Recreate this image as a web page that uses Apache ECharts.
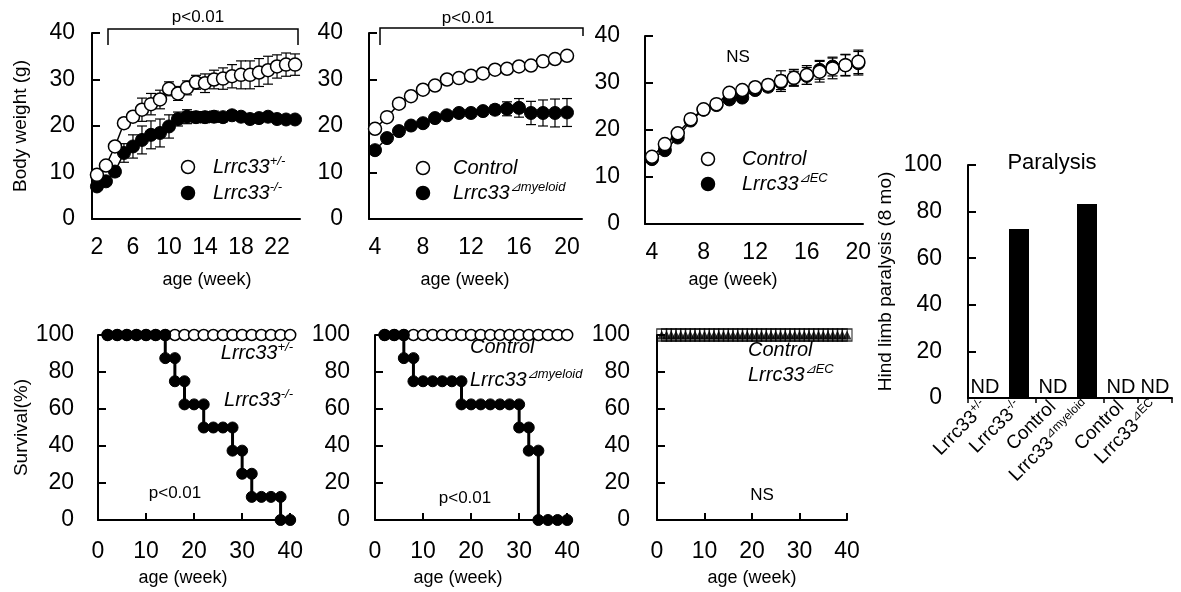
<!DOCTYPE html>
<html>
<head>
<meta charset="utf-8">
<script src="https://cdn.jsdelivr.net/npm/echarts@6/dist/echarts.min.js"></script>
<style>
  html, body { margin: 0; background: #fff; }
  #chart { width: 1181px; height: 592px; }
</style>
</head>
<body>
<div id="chart"></div>
<script>
// ---- body weight, Lrrc33 +/- vs -/- ----
const hetWeeks = [2,3,4,5,6,7,8,9,10,11,12,13,14,15,16,17,18,19,20,21,22,23,24];
const hetWeight = [9.5,11.5,15.6,20.6,22,23.5,24.7,25.7,28,27,28.2,29.4,29.2,30,30.2,30.7,31,31,31.5,32,32.8,33.2,33.2];
const hetErr = [0.5,0.8,1,1,1,2.5,2.3,2,1.5,1.5,1.5,1.5,2,2,2.3,2.5,3,3,3,3,2.5,2.5,2.3];
const koWeight = [7,8.1,10.2,14.2,15.6,17,18.1,18.5,19.9,21.5,22,21.9,21.9,22,21.9,22.3,22,21.5,21.7,22,21.5,21.4,21.4];
const koErr = [0.5,0.5,1,2,2.5,3,3,3,2.5,1.5,1.5,1.2,1.2,1.2,1,1,0.8,0.8,0.8,0.8,0.8,0.8,0.8];

// ---- body weight, Control vs myeloid ----
const myeWeeks = [4,5,6,7,8,9,10,11,12,13,14,15,16,17,18,19,20];
const myeCtrlWeight = [19.4,21.9,24.8,26.4,27.8,28.7,30,30.3,30.8,31.3,32.1,32.3,32.8,33,33.9,34.4,35.1];
const myeCtrlErr = [0,0,0,0,0,0,0,0,0,0,0,0,0,0,0,0,0];
const myeKoWeight = [14.8,17.4,18.9,20.1,20.6,21.7,22.3,22.8,22.8,23.2,23.5,23.7,23.9,22.8,22.8,22.8,22.9];
const myeKoErr = [0.5,0.5,0.5,0.5,0.5,0.5,0.5,0.7,0.7,0.8,1,1.5,2,2.5,2.8,3,3];

// ---- body weight, Control vs EC ----
const ecWeeks = [4,5,6,7,8,9,10,11,12,13,14,15,16,17,18,19,20];
const ecCtrlWeight = [14.3,17,19.3,22.3,24.4,25.5,27.9,28.5,29.1,29.6,30.4,31.1,31.7,32.4,33.1,33.8,34.5];
const ecCtrlErr = [0.5,0.5,0.5,0.5,0.5,0.5,0.8,0.8,0.8,1,2.2,1.8,2,2.2,2.2,2.3,2.5];
const ecKoWeight = [13.8,15.7,18.4,22,24.3,25.3,26.5,26.9,28.5,29.2,30.1,31,31.5,32.8,33.5,33.8,34.2];
const ecKoErr = [0.5,0.5,0.5,0.5,0.5,0.5,0.8,0.8,0.8,1,1.5,1.5,1.8,2,2,2.2,2.5];

// ---- survival ----
const survHetWeeks = [2,4,6,8,10,12,14,16,18,20,22,24,26,28,30,32,34,36,38,40];
const survHetPct = [100,100,100,100,100,100,100,100,100,100,100,100,100,100,100,100,100,100,100,100];
const survKoWeeks = [2,4,6,8,10,12,14,14,16,16,18,18,20,22,22,24,26,28,28,30,30,32,32,34,36,38,38,40];
const survKoPct = [100,100,100,100,100,100,100,87.5,87.5,75,75,62.5,62.5,62.5,50,50,50,50,37.5,37.5,25,25,12.5,12.5,12.5,12.5,0,0];

const survMyeCtrlWeeks = [2,4,6,8,10,12,14,16,18,20,22,24,26,28,30,32,34,36,38,40];
const survMyeCtrlPct = [100,100,100,100,100,100,100,100,100,100,100,100,100,100,100,100,100,100,100,100];
const survMyeKoWeeks = [2,4,6,6,8,8,10,12,14,16,18,18,20,22,24,26,28,30,30,32,32,34,34,36,38,40];
const survMyeKoPct = [100,100,100,87.5,87.5,75,75,75,75,75,75,62.5,62.5,62.5,62.5,62.5,62.5,62.5,50,50,37.5,37.5,0,0,0,0];

const survEcWeeks = [1,2,3,4,5,6,7,8,9,10,11,12,13,14,15,16,17,18,19,20,21,22,23,24,25,26,27,28,29,30,31,32,33,34,35,36,37,38,39,40];
const survEcCtrlPct = [100,100,100,100,100,100,100,100,100,100,100,100,100,100,100,100,100,100,100,100,100,100,100,100,100,100,100,100,100,100,100,100,100,100,100,100,100,100,100,100];
const survEcKoPct = [100,100,100,100,100,100,100,100,100,100,100,100,100,100,100,100,100,100,100,100,100,100,100,100,100,100,100,100,100,100,100,100,100,100,100,100,100,100,100,100];

// ---- paralysis ----
const paraGroups = ['Lrrc33+/-', 'Lrrc33-/-', 'Control', 'Lrrc33⊿myeloid', 'Control', 'Lrrc33⊿EC'];
const paraPct = [0, 72.5, 0, 83.3, 0, 0];

// tick labels
const weightTicksA = [2, 6, 10, 14, 18, 22];
const weightTicksB = [4, 8, 12, 16, 20];
const survTicks = [0, 10, 20, 30, 40];
const survTickMarks = [10, 20, 30, 40];

const FONT = '"Liberation Sans", Arial, Helvetica, sans-serif';

function zip(xs, ys) {
  return xs.map((x, i) => [x, ys[i]]);
}
function zip3(xs, ys, es) {
  return xs.map((x, i) => [x, ys[i], es[i]]);
}

// error bars drawn through the axis scale
function errRender(params, api) {
  const x = api.value(0), y = api.value(1), e = api.value(2);
  if (!e) return null;
  const hi = api.coord([x, y + e]);
  const lo = api.coord([x, y - e]);
  const w = 5;
  const st = { stroke: '#000', lineWidth: 1.2 };
  return {
    type: 'group',
    children: [
      { type: 'line', shape: { x1: hi[0], y1: hi[1], x2: lo[0], y2: lo[1] }, style: st },
      { type: 'line', shape: { x1: hi[0] - w, y1: hi[1], x2: hi[0] + w, y2: hi[1] }, style: st },
      { type: 'line', shape: { x1: lo[0] - w, y1: lo[1], x2: lo[0] + w, y2: lo[1] }, style: st }
    ]
  };
}

function errSeries(idx, xs, ys, es) {
  return {
    type: 'custom', xAxisIndex: idx, yAxisIndex: idx, z: 1,
    renderItem: errRender, data: zip3(xs, ys, es), silent: true
  };
}

function openLine(idx, xs, ys, size, lw) {
  return {
    type: 'line', xAxisIndex: idx, yAxisIndex: idx, z: 4,
    data: zip(xs, ys), symbol: 'circle', symbolSize: size, showAllSymbol: true,
    itemStyle: { color: '#fff', borderColor: '#000', borderWidth: 1.5 },
    lineStyle: { color: '#000', width: lw }
  };
}
function filledLine(idx, xs, ys, size, lw) {
  return {
    type: 'line', xAxisIndex: idx, yAxisIndex: idx, z: 3,
    data: zip(xs, ys), symbol: 'circle', symbolSize: size, showAllSymbol: true,
    itemStyle: { color: '#000', borderColor: '#000', borderWidth: 1 },
    lineStyle: { color: '#000', width: lw }
  };
}

const axisLine = { show: true, onZero: false, lineStyle: { color: '#000', width: 2 } };
const tickLabel = { color: '#000', fontSize: 23, fontFamily: FONT };

function weightX(idx, min, max, ticks) {
  return {
    type: 'value', gridIndex: idx, min: min, max: max,
    axisLine: axisLine, axisTick: { show: false }, splitLine: { show: false },
    axisLabel: Object.assign({ margin: 17, customValues: ticks }, tickLabel)
  };
}
function survX(idx, max) {
  return {
    type: 'value', gridIndex: idx, min: 0, max: max,
    axisLine: axisLine, splitLine: { show: false },
    axisTick: { show: true, inside: true, length: 7, customValues: survTickMarks, lineStyle: { color: '#000', width: 2 } },
    axisLabel: Object.assign({ margin: 20, customValues: survTicks }, tickLabel)
  };
}
function yAx(idx, max, interval, margin, name, gap) {
  const ax = {
    type: 'value', gridIndex: idx, min: 0, max: max, interval: interval,
    axisLine: axisLine, splitLine: { show: false },
    axisTick: { show: true, inside: true, length: 8, lineStyle: { color: '#000', width: 2 } },
    axisLabel: Object.assign({ margin: margin }, tickLabel)
  };
  if (name) {
    ax.name = name;
    ax.nameLocation = 'middle';
    ax.nameGap = gap;
    ax.nameTextStyle = { color: '#000', fontSize: 19, fontFamily: FONT };
  }
  return ax;
}

const richStyles = {
  i: { fontSize: 20, fontStyle: 'italic', fontFamily: FONT, color: '#000', lineHeight: 24 },
  is: { fontSize: 13, fontStyle: 'italic', fontFamily: FONT, color: '#000', verticalAlign: 'top', lineHeight: 14 },
  n: { fontSize: 19, fontFamily: FONT, color: '#000', lineHeight: 22 },
  ns: { fontSize: 12, fontFamily: FONT, color: '#000', verticalAlign: 'top', lineHeight: 13 }
};

function gText(x, y, text, opts) {
  return {
    type: 'text', x: x, y: y, z: 100, silent: true,
    style: Object.assign({
      text: text, fill: '#000', fontSize: 17, fontFamily: FONT,
      align: 'center', verticalAlign: 'middle', rich: richStyles
    }, opts || {})
  };
}
function gLegendMark(x, y, filled) {
  return {
    type: 'circle', z: 100, silent: true,
    shape: { cx: x, cy: y, r: 6.5 },
    style: { fill: filled ? '#000' : '#fff', stroke: '#000', lineWidth: 1.5 }
  };
}
function gBracket(points) {
  return {
    type: 'polyline', z: 100, silent: true,
    shape: { points: points },
    style: { stroke: '#000', lineWidth: 1.5, fill: null }
  };
}

const option = {
  animation: false,
  backgroundColor: '#fff',
  grid: [
    { left: 92, top: 33, width: 208, height: 186 },
    { left: 369, top: 33, width: 213, height: 186 },
    { left: 645, top: 36, width: 218, height: 188 },
    { left: 98, top: 335, width: 197, height: 185 },
    { left: 375, top: 335, width: 197, height: 185 },
    { left: 657, top: 335, width: 190, height: 185 },
    { left: 968, top: 165, width: 204, height: 233 }
  ],
  xAxis: [
    weightX(0, 1.45, 24.55, weightTicksA),
    weightX(1, 3.5, 21.25, weightTicksB),
    weightX(2, 3.46, 20.36, weightTicksB),
    survX(3, 41),
    survX(4, 41),
    survX(5, 40),
    {
      type: 'category', gridIndex: 6, data: paraGroups,
      axisLine: axisLine,
      axisTick: { show: true, interval: 1, length: 5, lineStyle: { color: '#000', width: 1.5 } },
      axisLabel: {
        interval: 0, rotate: 45, margin: 6, color: '#000', fontFamily: FONT,
        formatter: function (v) {
          if (v.indexOf('Lrrc33') === 0) return '{n|Lrrc33}{ns|' + v.slice(6) + '}';
          return '{n|' + v + '}';
        },
        rich: { n: richStyles.n, ns: richStyles.ns }
      }
    }
  ],
  yAxis: [
    yAx(0, 40, 10, 17, 'Body weight (g)', 62),
    yAx(1, 40, 10, 26),
    yAx(2, 40, 10, 25),
    yAx(3, 100, 20, 24, 'Survival(%)', 63),
    yAx(4, 100, 20, 25),
    yAx(5, 100, 20, 27),
    yAx(6, 100, 20, 26, 'Hind limb paralysis (8 mo)', 73)
  ],
  series: [
    // panel A
    errSeries(0, hetWeeks, hetWeight, hetErr),
    errSeries(0, hetWeeks, koWeight, koErr),
    filledLine(0, hetWeeks, koWeight, 13, 1.5),
    openLine(0, hetWeeks, hetWeight, 13, 1.5),
    // panel B
    errSeries(1, myeWeeks, myeKoWeight, myeKoErr),
    errSeries(1, myeWeeks, myeCtrlWeight, myeCtrlErr),
    filledLine(1, myeWeeks, myeKoWeight, 13, 1.5),
    openLine(1, myeWeeks, myeCtrlWeight, 13, 1.5),
    // panel C
    errSeries(2, ecWeeks, ecKoWeight, ecKoErr),
    errSeries(2, ecWeeks, ecCtrlWeight, ecCtrlErr),
    filledLine(2, ecWeeks, ecKoWeight, 13, 1.5),
    openLine(2, ecWeeks, ecCtrlWeight, 13, 1.5),
    // survival
    Object.assign(openLine(3, survHetWeeks, survHetPct, 11, 1), { z: 2 }),
    Object.assign(filledLine(3, survKoWeeks, survKoPct, 11, 3), { z: 3 }),
    Object.assign(openLine(4, survMyeCtrlWeeks, survMyeCtrlPct, 11, 1), { z: 2 }),
    Object.assign(filledLine(4, survMyeKoWeeks, survMyeKoPct, 11, 3), { z: 3 }),
    {
      type: 'scatter', xAxisIndex: 5, yAxisIndex: 5, z: 2,
      data: zip(survEcWeeks, survEcCtrlPct), symbol: 'rect', symbolSize: [10, 12],
      itemStyle: { color: 'rgba(255,255,255,0)', borderColor: '#000', borderWidth: 1.2 }
    },
    {
      type: 'scatter', xAxisIndex: 5, yAxisIndex: 5, z: 3,
      data: zip(survEcWeeks, survEcKoPct), symbol: 'triangle', symbolSize: 9,
      itemStyle: { color: '#000' }
    },
    // paralysis
    {
      type: 'bar', xAxisIndex: 6, yAxisIndex: 6, data: paraPct, barWidth: 20,
      itemStyle: { color: '#000' },
      label: {
        show: true, position: 'top', distance: 1, color: '#000', fontSize: 20, fontFamily: FONT,
        formatter: function (p) { return p.value === 0 ? 'ND' : ''; }
      }
    }
  ],
  graphic: {
    elements: [
      // panel A annotations
      gBracket([[108, 45], [108, 29], [298, 29], [298, 45]]),
      gText(198, 17, 'p<0.01'),
      gLegendMark(188, 167, false),
      gText(213, 167, '{i|Lrrc33}{is|+/-}', { align: 'left' }),
      gLegendMark(188, 193, true),
      gText(213, 193, '{i|Lrrc33}{is|-/-}', { align: 'left' }),
      gText(207, 280, 'age (week)', { fontSize: 18 }),
      // panel B
      gBracket([[380, 45], [380, 28], [583, 28], [583, 36]]),
      gText(468, 18, 'p<0.01'),
      gLegendMark(423, 168, false),
      gText(453, 168, '{i|Control}', { align: 'left' }),
      gLegendMark(423, 193, true),
      gText(453, 193, '{i|Lrrc33}{is|⊿myeloid}', { align: 'left' }),
      gText(465, 280, 'age (week)', { fontSize: 18 }),
      // panel C
      gText(738, 57, 'NS'),
      gLegendMark(708, 159, false),
      gText(742, 159, '{i|Control}', { align: 'left' }),
      gLegendMark(708, 184, true),
      gText(742, 184, '{i|Lrrc33}{is|⊿EC}', { align: 'left' }),
      gText(733, 280, 'age (week)', { fontSize: 18 }),
      // survival A
      gText(293, 353, '{i|Lrrc33}{is|+/-}', { align: 'right' }),
      gText(293, 400, '{i|Lrrc33}{is|-/-}', { align: 'right' }),
      gText(175, 493, 'p<0.01'),
      gText(183, 578, 'age (week)', { fontSize: 18 }),
      // survival B
      gText(470, 347, '{i|Control}', { align: 'left' }),
      gText(470, 380, '{i|Lrrc33}{is|⊿myeloid}', { align: 'left' }),
      gText(465, 498, 'p<0.01'),
      gText(458, 578, 'age (week)', { fontSize: 18 }),
      // survival C
      gText(748, 350, '{i|Control}', { align: 'left' }),
      gText(748, 375, '{i|Lrrc33}{is|⊿EC}', { align: 'left' }),
      gText(762, 495, 'NS'),
      gText(752, 578, 'age (week)', { fontSize: 18 }),
      // paralysis title
      gText(1052, 163, 'Paralysis', { fontSize: 22 })
    ]
  }
};

const chart = echarts.init(document.getElementById('chart'));
chart.setOption(option);
window.addEventListener('resize', function () { chart.resize(); });
</script>
</body>
</html>
